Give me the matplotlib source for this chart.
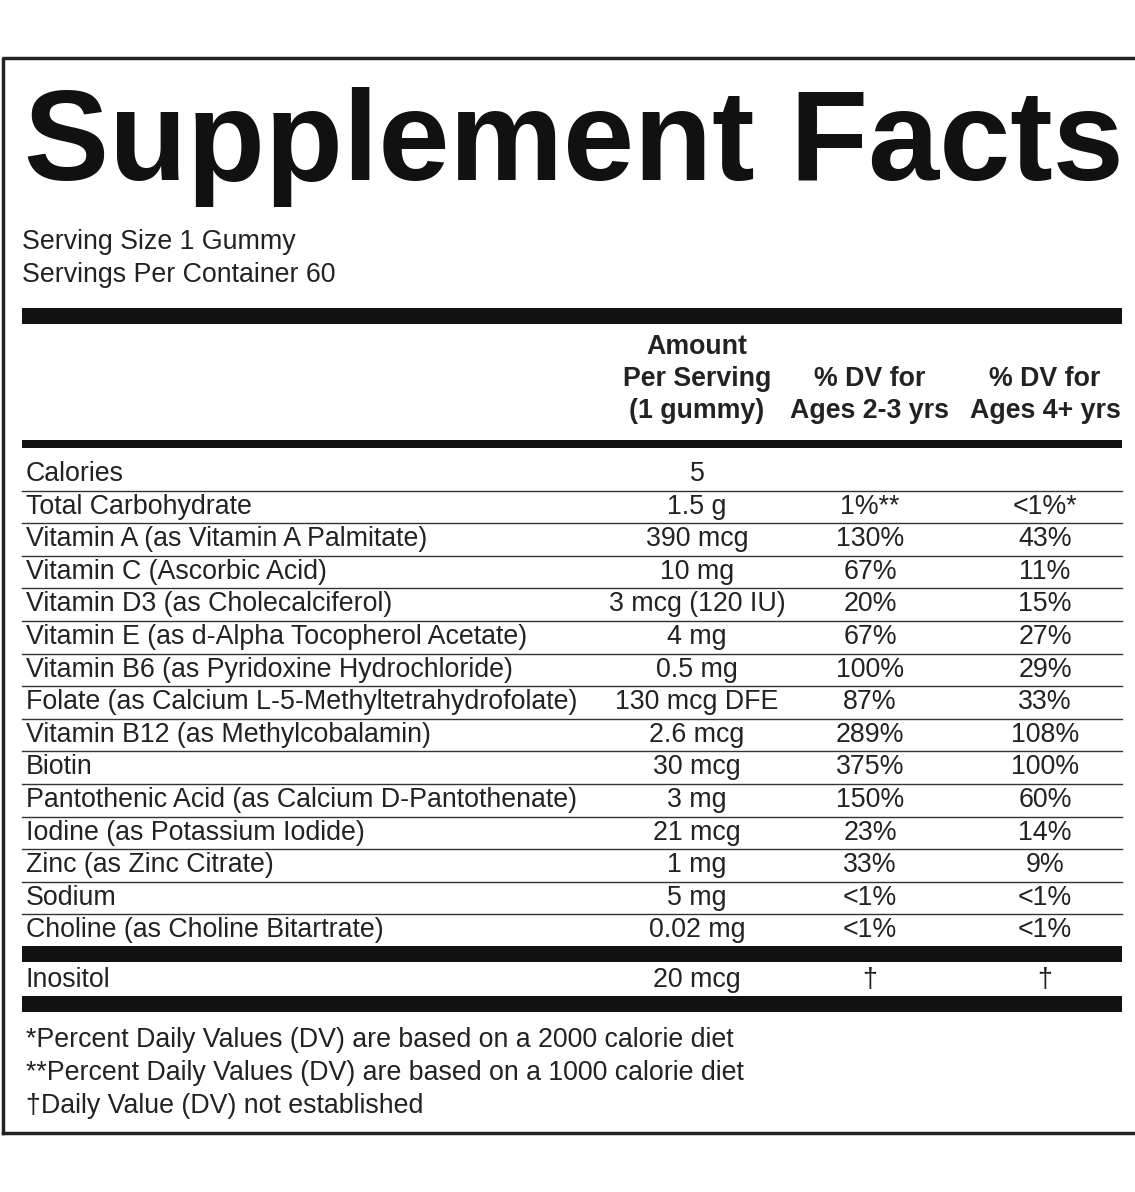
import matplotlib.pyplot as plt
from matplotlib.patches import Rectangle

plt.rcParams['font.family'] = ['Liberation Sans', 'DejaVu Sans']

serving_lines = ["Serving Size 1 Gummy", "Servings Per Container 60"]
col_headers = [["Amount", "Per Serving", "(1 gummy)"], ["% DV for", "Ages 2-3 yrs"], ["% DV for", "Ages 4+ yrs"]]
nutrients = ["Calories", "Total Carbohydrate", "Vitamin A (as Vitamin A Palmitate)",
             "Vitamin C (Ascorbic Acid)", "Vitamin D3 (as Cholecalciferol)",
             "Vitamin E (as d-Alpha Tocopherol Acetate)", "Vitamin B6 (as Pyridoxine Hydrochloride)",
             "Folate (as Calcium L-5-Methyltetrahydrofolate)", "Vitamin B12 (as Methylcobalamin)",
             "Biotin", "Pantothenic Acid (as Calcium D-Pantothenate)", "Iodine (as Potassium Iodide)",
             "Zinc (as Zinc Citrate)", "Sodium", "Choline (as Choline Bitartrate)"]
amounts = ["5", "1.5 g", "390 mcg", "10 mg", "3 mcg (120 IU)", "4 mg", "0.5 mg", "130 mcg DFE",
           "2.6 mcg", "30 mcg", "3 mg", "21 mcg", "1 mg", "5 mg", "0.02 mg"]
dv_2_3 = ["", "1%**", "130%", "67%", "20%", "67%", "100%", "87%", "289%", "375%", "150%",
          "23%", "33%", "<1%", "<1%"]
dv_4 = ["", "<1%*", "43%", "11%", "15%", "27%", "29%", "33%", "108%", "100%", "60%",
        "14%", "9%", "<1%", "<1%"]
extra = ["Inositol", "20 mcg", "\u2020", "\u2020"]
footnotes = ["*Percent Daily Values (DV) are based on a 2000 calorie diet",
             "**Percent Daily Values (DV) are based on a 1000 calorie diet",
             "\u2020Daily Value (DV) not established"]

W, H = 1135, 1192
fig = plt.figure(figsize=(W / 100, H / 100), dpi=100)
ax = fig.add_axes([0, 0, 1, 1])
ax.set_xlim(0, W)
ax.set_ylim(H, 0)
ax.axis('off')

L, R = 22, 1122
cols = [697, 870, 1045]
fs = 19.3

def bar(y0, y1):
    ax.add_patch(Rectangle((L, y0), R - L, y1 - y0, color='#111111', lw=0))

# outer border
ax.plot([3, 3, W + 5], [1133, 58, 58], color='#222', lw=2.5)
ax.plot([3, W + 5], [1133, 1133], color='#222', lw=2.5)

ax.text(24, 147, "Supplement Facts", fontsize=92, fontweight='bold', va='center', ha='left', color='#111')
for i, s in enumerate(serving_lines):
    ax.text(22, 242 + 33 * i, s, fontsize=fs, va='center', color='#222')

bar(308, 324)
header_y = [347, 379, 411]
for c, lines in zip(cols, col_headers):
    offs = header_y[3 - len(lines):]
    for y, s in zip(offs, lines):
        ax.text(c, y, s, fontsize=fs, fontweight='bold', ha='center', va='center', color='#222')
bar(440, 448)

step = 32.6
y0 = 474
for i, name in enumerate(nutrients):
    y = y0 + step * i
    ax.text(26, y, name, fontsize=fs, va='center', color='#222')
    for c, v in zip(cols, [amounts[i], dv_2_3[i], dv_4[i]]):
        ax.text(c, y, v, fontsize=fs, ha='center', va='center', color='#222')
    if i < len(nutrients) - 1:
        ax.plot([L, R], [y + 16.5, y + 16.5], color='#333', lw=1)

bar(946, 962)
ax.text(26, 980, extra[0], fontsize=fs, va='center', color='#222')
for c, v in zip(cols, extra[1:]):
    ax.text(c, 980, v, fontsize=fs, ha='center', va='center', color='#222')
bar(996, 1012)

for i, s in enumerate(footnotes):
    ax.text(26, 1040 + 33 * i, s, fontsize=fs, va='center', color='#222')

fig.savefig("out.png", dpi=100, facecolor='white')
